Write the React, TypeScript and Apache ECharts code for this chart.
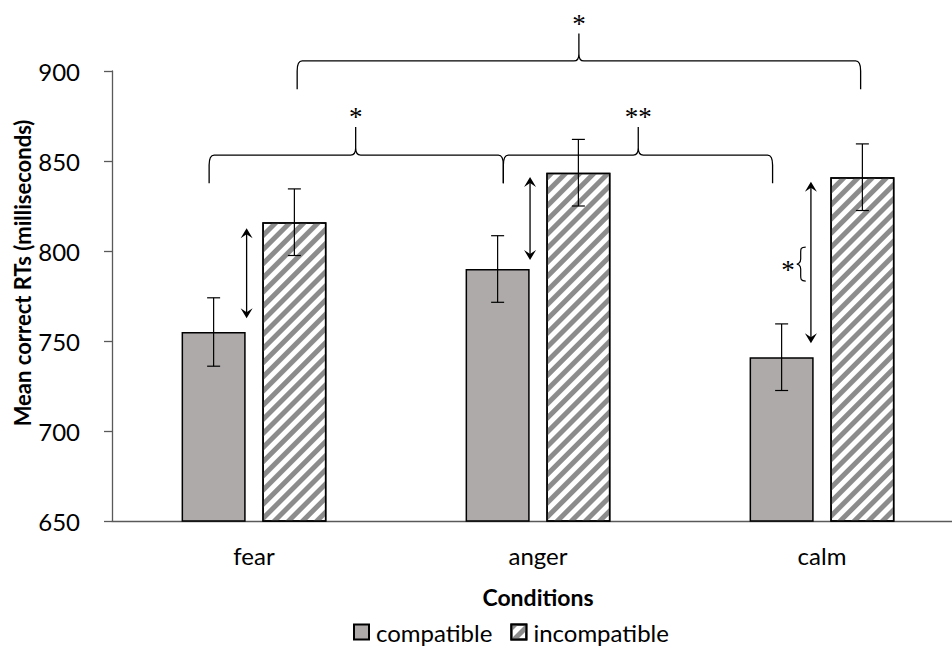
import React, { useEffect, useRef } from "react";
import * as echarts from "echarts";

// Mean correct RTs per condition
const categories = ["fear", "anger", "calm"];
const compatible = [755, 790, 741];
const incompatible = [816, 843.5, 841];
const compatibleErr = [19, 18.5, 18.5];
const incompatibleErr = [18.5, 18.5, 18.5];

// Axis range
const yMin = 650;
const yMax = 900;
const yStep = 50;

// Significance braces (x in category units from the first category, y in ms)
const braceLeft = [-0.158, 0.878, 0.152];
const braceRight = [0.878, 1.826, 2.136];
const bracePeak = [0.358, 1.353, 1.144];
const braceEnd = [837.6, 837.6, 889.8];
const braceLine = [853.3, 853.3, 905.6];
const braceTop = [868.9, 868.9, 920.9];
const braceLabels = ["*", "**", "*"];

// Double-headed arrows between paired bars
const arrowX = [-0.026, 0.972, 1.961];
const arrowTop = [812.6, 841.1, 838.5];
const arrowBottom = [762.6, 795, 748.7];

// Small side brace with its star (calm pair)
const sideBraceX = [1.925];
const sideBraceTop = [802.2];
const sideBraceBottom = [783.3];
const sideBraceLabel = ["*"];

const BAR_CATEGORY_GAP = 0.49;
const BAR_GAP = 0.26;

const FONT = "Lato, 'Open Sans', sans-serif";
const STAR_FONT = "'Liberation Serif', 'DejaVu Serif', serif";

function toPx(api: any, xf: number, v: number): number[] {
  const base = api.coord([0, v]);
  const band = api.size([1, 0])[0];
  return [base[0] + xf * band, base[1]];
}

function errorBarSeries(name: string, values: number[], errs: number[], sign: number) {
  return {
    type: "custom",
    name: name + "-err",
    z: 5,
    silent: true,
    encode: { x: 0, y: 1 },
    data: values.map((v, i) => [i, v, errs[i]]),
    renderItem: (_params: any, api: any) => {
      const i = api.value(0);
      const v = api.value(1);
      const e = api.value(2);
      const band = api.size([1, 0])[0];
      const barW = (band * (1 - BAR_CATEGORY_GAP)) / (2 + BAR_GAP);
      const offset = (sign * barW * (1 + BAR_GAP)) / 2;
      const hi = api.coord([i, v + e]);
      const lo = api.coord([i, v - e]);
      const x = hi[0] + offset;
      const cap = 6.5;
      const st = { stroke: "#000", lineWidth: 1.2 };
      return {
        type: "group",
        children: [
          { type: "line", shape: { x1: x, y1: hi[1], x2: x, y2: lo[1] }, style: st },
          { type: "line", shape: { x1: x - cap, y1: hi[1], x2: x + cap, y2: hi[1] }, style: st },
          { type: "line", shape: { x1: x - cap, y1: lo[1], x2: x + cap, y2: lo[1] }, style: st },
        ],
      };
    },
  };
}

export default function App() {
  const ref = useRef<HTMLDivElement>(null);

  useEffect(() => {
    if (!ref.current) return;
    const chart = echarts.init(ref.current, null, { renderer: "svg" });

    const braceSeries = {
      type: "custom",
      name: "braces",
      z: 6,
      silent: true,
      encode: { x: 0, y: 1 },
      data: bracePeak.map((p, i) => [p, braceLine[i]]),
      renderItem: (params: any, api: any) => {
        const k = params.dataIndex;
        const L = toPx(api, braceLeft[k], braceEnd[k]);
        const R = toPx(api, braceRight[k], braceEnd[k]);
        const P = toPx(api, bracePeak[k], braceTop[k]);
        const yl = toPx(api, 0, braceLine[k])[1];
        const rh = 5;
        const rv = 10;
        const ph = 5;
        const pv = 7;
        const d =
          `M ${L[0]} ${L[1]} L ${L[0]} ${yl + rv} ` +
          `C ${L[0]} ${yl + rv * 0.35} ${L[0] + rh * 0.35} ${yl} ${L[0] + rh} ${yl} ` +
          `L ${P[0] - ph} ${yl} ` +
          `C ${P[0] - ph * 0.3} ${yl} ${P[0]} ${yl - pv * 0.4} ${P[0]} ${yl - pv} ` +
          `L ${P[0]} ${P[1]} L ${P[0]} ${yl - pv} ` +
          `C ${P[0]} ${yl - pv * 0.4} ${P[0] + ph * 0.3} ${yl} ${P[0] + ph} ${yl} ` +
          `L ${R[0] - rh} ${yl} ` +
          `C ${R[0] - rh * 0.35} ${yl} ${R[0]} ${yl + rv * 0.35} ${R[0]} ${yl + rv} ` +
          `L ${R[0]} ${R[1]}`;
        return {
          type: "group",
          children: [
            {
              type: "path",
              shape: { pathData: d },
              style: { fill: "none", stroke: "#000", lineWidth: 1.3 },
            },
            {
              type: "text",
              x: P[0],
              y: P[1] + 4,
              style: {
                text: braceLabels[k],
                font: `27px ${STAR_FONT}`,
                fill: "#000",
                align: "center",
                verticalAlign: "bottom",
              },
            },
          ],
        };
      },
    };

    const arrowSeries = {
      type: "custom",
      name: "arrows",
      z: 6,
      silent: true,
      encode: { x: 0, y: 1 },
      data: arrowX.map((x, i) => [x, arrowTop[i]]),
      renderItem: (params: any, api: any) => {
        const k = params.dataIndex;
        const T = toPx(api, arrowX[k], arrowTop[k]);
        const B = toPx(api, arrowX[k], arrowBottom[k]);
        const x = T[0];
        const hw = 6;
        const hl = 10;
        const notch = 6;
        return {
          type: "group",
          children: [
            {
              type: "line",
              shape: { x1: x, y1: T[1] + 3, x2: x, y2: B[1] - 3 },
              style: { stroke: "#000", lineWidth: 1.3 },
            },
            {
              type: "polygon",
              shape: { points: [[x, T[1]], [x + hw, T[1] + hl], [x, T[1] + notch], [x - hw, T[1] + hl]] },
              style: { fill: "#000" },
            },
            {
              type: "polygon",
              shape: { points: [[x, B[1]], [x + hw, B[1] - hl], [x, B[1] - notch], [x - hw, B[1] - hl]] },
              style: { fill: "#000" },
            },
          ],
        };
      },
    };

    const sideBraceSeries = {
      type: "custom",
      name: "side-brace",
      z: 6,
      silent: true,
      encode: { x: 0, y: 1 },
      data: sideBraceX.map((x, i) => [x, sideBraceTop[i]]),
      renderItem: (params: any, api: any) => {
        const k = params.dataIndex;
        const T = toPx(api, sideBraceX[k], sideBraceTop[k]);
        const B = toPx(api, sideBraceX[k], sideBraceBottom[k]);
        const xm = T[0];
        const xl = xm - 4;
        const xr = xm + 5;
        const ym = (T[1] + B[1]) / 2;
        const d =
          `M ${xr} ${T[1]} C ${xm} ${T[1]} ${xm} ${T[1] + 2} ${xm} ${T[1] + 5} ` +
          `L ${xm} ${ym - 5} C ${xm} ${ym - 1} ${xl + 1} ${ym} ${xl} ${ym} ` +
          `C ${xl + 1} ${ym} ${xm} ${ym + 1} ${xm} ${ym + 5} ` +
          `L ${xm} ${B[1] - 5} C ${xm} ${B[1] - 2} ${xm} ${B[1]} ${xr} ${B[1]}`;
        return {
          type: "group",
          children: [
            {
              type: "path",
              shape: { pathData: d },
              style: { fill: "none", stroke: "#000", lineWidth: 1.2 },
            },
            {
              type: "text",
              x: xl - 2,
              y: ym + 6,
              style: {
                text: sideBraceLabel[k],
                font: `27px ${STAR_FONT}`,
                fill: "#000",
                align: "right",
                verticalAlign: "middle",
              },
            },
          ],
        };
      },
    };

    const option: any = {
      animation: false,
      textStyle: { fontFamily: FONT },
      grid: { left: 112, right: 0, top: 71, bottom: 125, containLabel: false },
      legend: {
        left: 353,
        top: 620,
        padding: 0,
        itemWidth: 15,
        itemHeight: 15,
        itemGap: 18,
        icon: "rect",
        data: ["compatible", "incompatible"],
        textStyle: { fontFamily: FONT, fontSize: 24, color: "#000", padding: [0, 0, 0, 2] },
      },
      xAxis: {
        type: "category",
        data: categories,
        name: "Conditions",
        nameLocation: "middle",
        nameGap: 64,
        nameTextStyle: { fontFamily: FONT, fontSize: 23, fontWeight: "bold", color: "#000" },
        axisLine: { lineStyle: { color: "#595959", width: 1.3 } },
        axisTick: { show: false },
        axisLabel: { margin: 22, fontSize: 24, color: "#000", fontFamily: FONT },
        splitLine: { show: false },
      },
      yAxis: {
        type: "value",
        min: yMin,
        max: yMax,
        interval: yStep,
        axisLine: { show: true, lineStyle: { color: "#595959", width: 1.3 } },
        axisTick: { show: true, length: 8, lineStyle: { color: "#595959", width: 1.3 } },
        axisLabel: { margin: 32, fontSize: 24, color: "#000", fontFamily: FONT },
        splitLine: { show: false },
      },
      graphic: [
        {
          type: "text",
          x: 22,
          y: 273,
          rotation: Math.PI / 2,
          style: {
            text: "Mean correct RTs (milliseconds)",
            font: `bold 22px ${FONT}`,
            fill: "#000",
            align: "center",
            verticalAlign: "middle",
          },
        },
      ],
      series: [
        {
          type: "bar",
          name: "compatible",
          data: compatible,
          barCategoryGap: `${BAR_CATEGORY_GAP * 100}%`,
          barGap: `${BAR_GAP * 100}%`,
          itemStyle: { color: "#aeaaaa", borderColor: "#000", borderWidth: 1.5 },
        },
        {
          type: "bar",
          name: "incompatible",
          data: incompatible,
          barCategoryGap: `${BAR_CATEGORY_GAP * 100}%`,
          barGap: `${BAR_GAP * 100}%`,
          itemStyle: {
            color: "#ffffff",
            borderColor: "#000",
            borderWidth: 1.5,
            decal: {
              symbol: "rect",
              symbolSize: 1,
              color: "#8c8c8c",
              backgroundColor: "#ffffff",
              dashArrayX: [1, 0],
              dashArrayY: [4.5, 5],
              rotation: -Math.PI / 4,
            },
          },
        },
        errorBarSeries("compatible", compatible, compatibleErr, -1),
        errorBarSeries("incompatible", incompatible, incompatibleErr, 1),
        braceSeries,
        arrowSeries,
        sideBraceSeries,
      ],
    };

    chart.setOption(option);
    return () => chart.dispose();
  }, []);

  // The plot runs slightly past the right edge; the outer box crops it.
  return (
    <div style={{ position: "absolute", left: 0, top: 0, width: 952, height: 646, overflow: "hidden", background: "#fff" }}>
      <div ref={ref} style={{ width: 964, height: 646 }} />
    </div>
  );
}
